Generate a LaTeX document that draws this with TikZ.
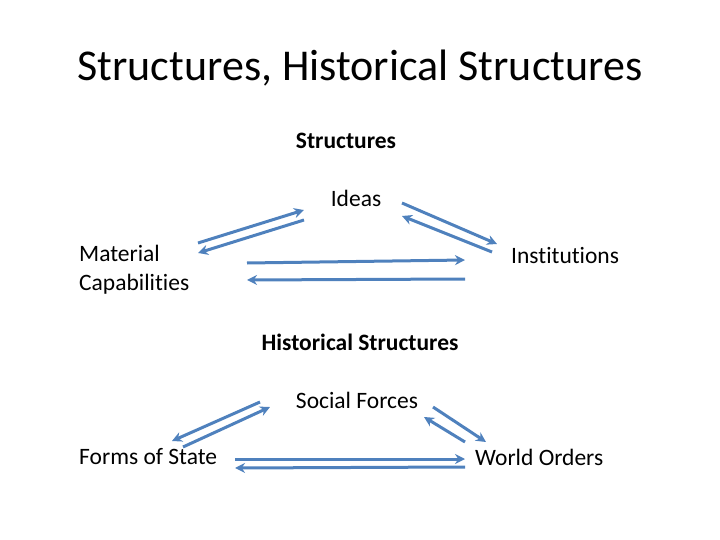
\documentclass[tikz,border=0pt]{standalone}
\usepackage{fontspec}
\setmainfont[Ligatures=NoCommon]{Carlito}
\usetikzlibrary{arrows.meta}
\definecolor{arrowblue}{RGB}{79,129,189}
\begin{document}
\begin{tikzpicture}[x=1pt, y=-1pt,
  lbl/.style={inner sep=0pt, font=\fontsize{23.5}{29}\selectfont},
  hdr/.style={lbl, font=\fontsize{23.5}{29}\selectfont\bfseries},
  link/.style={draw=arrowblue, line width=3pt, -{Stealth[length=10pt, width=10pt]}}]
\useasboundingbox (0,0) rectangle (720,540);
\node[inner sep=0pt, font=\fontsize{44}{50}\selectfont] (title) at (360,68) {Structures, Historical Structures};

% structures
\node[hdr] (str) at (346,141) {Structures};
\node[lbl] (ideas) at (356,198) {Ideas};
\node[lbl, anchor=west, align=left] (mat) at (79,270) {Material\\Capabilities};
\node[lbl, anchor=west] (inst) at (511,256) {Institutions};
\coordinate (m1) at (198,243); \coordinate (i1) at (304,210);
\coordinate (i2) at (304,220); \coordinate (m2) at (198,253);
\coordinate (i3) at (402,203); \coordinate (n1) at (497,244);
\coordinate (n2) at (492,252); \coordinate (i4) at (402,216);
\coordinate (m3) at (247,263); \coordinate (n3) at (465,260);
\coordinate (n4) at (465,279); \coordinate (m4) at (247,280);
\draw[link] (m1) -- (i1);
\draw[link] (i2) -- (m2);
\draw[link] (i3) -- (n1);
\draw[link] (n2) -- (i4);
\draw[link] (m3) -- (n3);
\draw[link] (n4) -- (m4);

% historical structures
\node[hdr] (hist) at (360,342) {Historical Structures};
\node[lbl] (soc) at (357,400) {Social Forces};
\node[lbl, anchor=west] (forms) at (79,457) {Forms of State};
\node[lbl, anchor=west] (world) at (475,457) {World Orders};
\coordinate (s1) at (260,402); \coordinate (f1) at (172,441);
\coordinate (f2) at (183,447); \coordinate (s2) at (270,407);
\coordinate (s3) at (433,407); \coordinate (w1) at (486,442);
\coordinate (w2) at (465,442); \coordinate (s4) at (424,417);
\coordinate (f3) at (235,459); \coordinate (w3) at (465,459);
\coordinate (w4) at (465,467); \coordinate (f4) at (235,468);
\draw[link] (s1) -- (f1);
\draw[link] (f2) -- (s2);
\draw[link] (s3) -- (w1);
\draw[link] (w2) -- (s4);
\draw[link] (f3) -- (w3);
\draw[link] (w4) -- (f4);
\end{tikzpicture}
\end{document}
